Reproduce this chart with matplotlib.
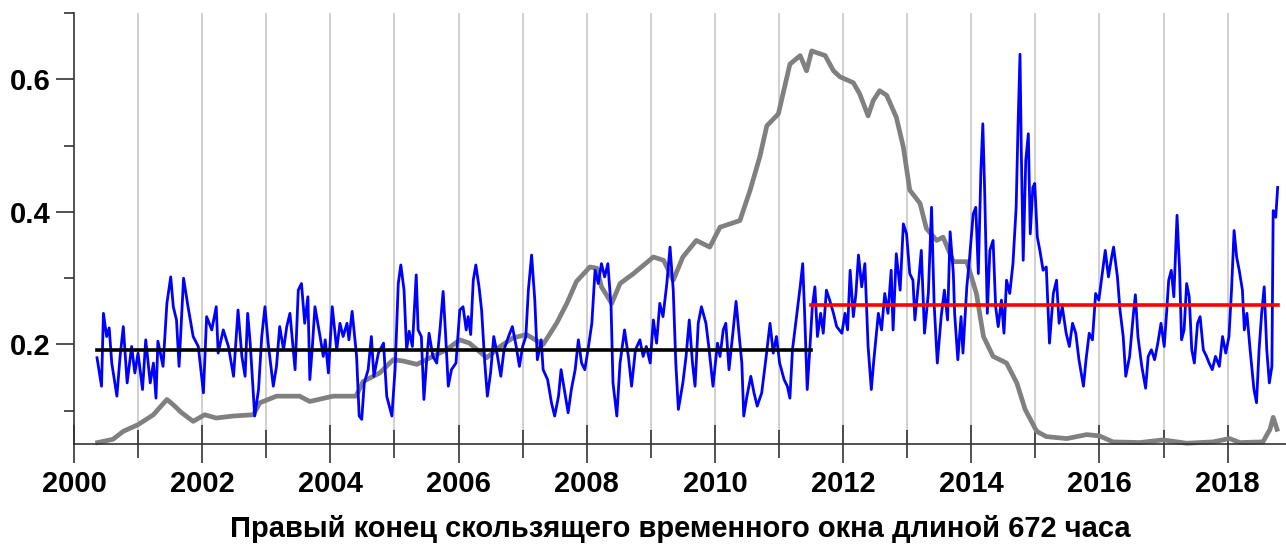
import matplotlib.pyplot as plt
from matplotlib.ticker import MultipleLocator

plt.rcParams["font.family"] = ["Liberation Sans", "DejaVu Sans"]

# blue series: windowed estimate (right window end, year)
blue_year = [
    2000.36, 2000.43, 2000.46, 2000.51, 2000.55, 2000.59, 2000.67, 2000.72, 2000.77, 2000.83,
    2000.90, 2000.95, 2001.00, 2001.07, 2001.12, 2001.19, 2001.24, 2001.28, 2001.31, 2001.39,
    2001.45, 2001.51, 2001.55, 2001.60, 2001.64, 2001.71, 2001.78, 2001.86, 2001.94, 2002.02,
    2002.07, 2002.15, 2002.22, 2002.25, 2002.33, 2002.41, 2002.49,
    2002.56, 2002.62, 2002.67, 2002.71, 2002.75, 2002.80, 2002.82, 2002.88, 2002.93, 2002.98,
    2003.03, 2003.11, 2003.16, 2003.21, 2003.27, 2003.32, 2003.37, 2003.45, 2003.50, 2003.55,
    2003.60, 2003.65, 2003.68, 2003.72, 2003.76, 2003.84, 2003.89, 2003.92, 2003.97, 2004.03,
    2004.10, 2004.15, 2004.20, 2004.26, 2004.29, 2004.34, 2004.41, 2004.45, 2004.49, 2004.53,
    2004.59, 2004.64, 2004.68, 2004.75,
    2004.83, 2004.88, 2004.96, 2005.01, 2005.06, 2005.10, 2005.15, 2005.19, 2005.23, 2005.28,
    2005.34, 2005.37, 2005.42, 2005.46, 2005.50, 2005.54, 2005.60, 2005.66, 2005.71, 2005.76,
    2005.80, 2005.84, 2005.89, 2005.96, 2006.02, 2006.07, 2006.12, 2006.15, 2006.19, 2006.23,
    2006.27, 2006.32, 2006.36, 2006.41, 2006.45, 2006.50, 2006.55, 2006.60, 2006.66, 2006.71,
    2006.78, 2006.84, 2006.90, 2006.95, 2007.00, 2007.05,
    2007.09, 2007.14, 2007.19, 2007.23, 2007.29, 2007.32, 2007.39, 2007.45, 2007.50, 2007.56,
    2007.60, 2007.65, 2007.71, 2007.76, 2007.82, 2007.87, 2007.92, 2007.97, 2008.02, 2008.08,
    2008.13, 2008.18, 2008.23, 2008.28, 2008.33, 2008.38, 2008.41, 2008.47, 2008.52, 2008.59,
    2008.65, 2008.70, 2008.76, 2008.83, 2008.88, 2008.93, 2008.99, 2009.04, 2009.09, 2009.14,
    2009.19, 2009.25, 2009.30, 2009.35,
    2009.39, 2009.43, 2009.50, 2009.55, 2009.60, 2009.65, 2009.69, 2009.74, 2009.79, 2009.86,
    2009.91, 2009.97, 2010.04, 2010.08, 2010.13, 2010.17, 2010.22, 2010.28, 2010.33, 2010.38,
    2010.42, 2010.45, 2010.50, 2010.56, 2010.61, 2010.66, 2010.73, 2010.80, 2010.86, 2010.91,
    2010.96, 2011.01, 2011.08, 2011.13, 2011.17, 2011.21, 2011.26, 2011.33, 2011.37, 2011.40,
    2011.44, 2011.48, 2011.52,
    2011.56, 2011.60, 2011.65, 2011.69, 2011.74, 2011.79, 2011.85, 2011.90, 2011.98, 2012.03,
    2012.07, 2012.11, 2012.16, 2012.20, 2012.24, 2012.29, 2012.34, 2012.39, 2012.44, 2012.48,
    2012.55, 2012.60, 2012.65, 2012.70, 2012.75, 2012.78, 2012.83, 2012.89, 2012.94, 2012.99,
    2013.04, 2013.09, 2013.12, 2013.18, 2013.22, 2013.27, 2013.33, 2013.38, 2013.42, 2013.47,
    2013.53, 2013.58, 2013.63, 2013.67, 2013.72, 2013.74, 2013.79, 2013.84,
    2013.87, 2013.93, 2013.97, 2014.03, 2014.07, 2014.11, 2014.15, 2014.18, 2014.21, 2014.25,
    2014.29, 2014.34, 2014.38, 2014.42, 2014.47, 2014.51, 2014.55, 2014.60, 2014.65, 2014.70,
    2014.73, 2014.76, 2014.78, 2014.81, 2014.85, 2014.89, 2014.92, 2014.96, 2014.99, 2015.03,
    2015.07, 2015.12, 2015.17, 2015.22, 2015.28, 2015.33, 2015.37, 2015.42, 2015.48, 2015.53,
    2015.58, 2015.63, 2015.68, 2015.75, 2015.79, 2015.84, 2015.89, 2015.94, 2015.99, 2016.05,
    2016.09, 2016.14, 2016.19, 2016.22,
    2016.28, 2016.32, 2016.37, 2016.41, 2016.47, 2016.53, 2016.56, 2016.60, 2016.66, 2016.72,
    2016.76, 2016.81, 2016.86, 2016.91, 2016.96, 2017.01, 2017.05, 2017.08, 2017.12, 2017.16,
    2017.21, 2017.25, 2017.28, 2017.32, 2017.36, 2017.40, 2017.44, 2017.48, 2017.53, 2017.57,
    2017.62, 2017.67, 2017.71, 2017.76, 2017.81, 2017.87, 2017.92, 2017.97, 2018.02, 2018.06,
    2018.10, 2018.14, 2018.18, 2018.23, 2018.26, 2018.30, 2018.35, 2018.41, 2018.45, 2018.49,
    2018.53, 2018.57, 2018.61, 2018.65, 2018.69, 2018.71, 2018.75, 2018.78,
]
blue_val = [
    0.180, 0.137, 0.247, 0.212, 0.225, 0.172, 0.122, 0.182, 0.227, 0.142,
    0.197, 0.157, 0.187, 0.132, 0.207, 0.142, 0.172, 0.119, 0.205, 0.167,
    0.262, 0.302, 0.257, 0.237, 0.167, 0.300, 0.257, 0.212, 0.197, 0.127,
    0.242, 0.222, 0.257, 0.187, 0.222, 0.197, 0.152,
    0.252, 0.182, 0.152, 0.247, 0.202, 0.122, 0.092, 0.132, 0.212, 0.257,
    0.202, 0.137, 0.167, 0.227, 0.192, 0.227, 0.247, 0.162, 0.282, 0.292,
    0.232, 0.272, 0.147, 0.197, 0.257, 0.212, 0.182, 0.207, 0.157, 0.257,
    0.192, 0.232, 0.212, 0.232, 0.207, 0.250, 0.182, 0.092, 0.087, 0.142,
    0.162, 0.212, 0.152, 0.187,
    0.202, 0.122, 0.092, 0.162, 0.292, 0.320, 0.282, 0.192, 0.220, 0.197,
    0.305, 0.222, 0.212, 0.117, 0.172, 0.217, 0.182, 0.172, 0.222, 0.280,
    0.212, 0.137, 0.162, 0.172, 0.252, 0.257, 0.222, 0.242, 0.215, 0.297,
    0.320, 0.287, 0.252, 0.172, 0.122, 0.157, 0.212, 0.187, 0.152, 0.192,
    0.212, 0.227, 0.197, 0.167, 0.197, 0.212,
    0.282, 0.335, 0.267, 0.177, 0.207, 0.162, 0.147, 0.112, 0.092, 0.122,
    0.162, 0.132, 0.097, 0.132, 0.162, 0.207, 0.172, 0.162, 0.192, 0.232,
    0.312, 0.292, 0.322, 0.302, 0.322, 0.257, 0.142, 0.092, 0.172, 0.222,
    0.182, 0.137, 0.192, 0.207, 0.182, 0.197, 0.172, 0.237, 0.202, 0.262,
    0.242, 0.292, 0.347, 0.282,
    0.172, 0.102, 0.142, 0.182, 0.237, 0.172, 0.137, 0.232, 0.257, 0.232,
    0.192, 0.137, 0.202, 0.182, 0.222, 0.232, 0.162, 0.217, 0.265, 0.212,
    0.172, 0.092, 0.122, 0.152, 0.127, 0.107, 0.127, 0.182, 0.232, 0.187,
    0.212, 0.172, 0.147, 0.137, 0.119, 0.192, 0.232, 0.287, 0.322, 0.247,
    0.132, 0.192, 0.257,
    0.287, 0.212, 0.247, 0.217, 0.282, 0.267, 0.247, 0.227, 0.217, 0.247,
    0.222, 0.312, 0.242, 0.277, 0.335, 0.287, 0.322, 0.197, 0.132, 0.177,
    0.247, 0.222, 0.277, 0.247, 0.312, 0.222, 0.337, 0.282, 0.382, 0.367,
    0.307, 0.297, 0.237, 0.297, 0.342, 0.217, 0.277, 0.407, 0.262, 0.172,
    0.242, 0.282, 0.237, 0.370, 0.307, 0.247, 0.177, 0.242,
    0.187, 0.287, 0.327, 0.397, 0.407, 0.307, 0.463, 0.533, 0.427, 0.247,
    0.342, 0.357, 0.257, 0.227, 0.267, 0.217, 0.297, 0.277, 0.322, 0.407,
    0.533, 0.638, 0.493, 0.327, 0.478, 0.518, 0.367, 0.437, 0.443, 0.362,
    0.342, 0.312, 0.317, 0.202, 0.277, 0.297, 0.232, 0.257, 0.217, 0.197,
    0.232, 0.217, 0.177, 0.137, 0.177, 0.217, 0.207, 0.277, 0.267, 0.312,
    0.342, 0.302, 0.332, 0.347,
    0.302, 0.252, 0.212, 0.152, 0.182, 0.247, 0.275, 0.212, 0.167, 0.134,
    0.182, 0.192, 0.177, 0.202, 0.232, 0.197, 0.252, 0.297, 0.312, 0.272,
    0.395, 0.312, 0.207, 0.222, 0.292, 0.272, 0.192, 0.172, 0.232, 0.242,
    0.192, 0.182, 0.172, 0.162, 0.182, 0.167, 0.212, 0.187, 0.212, 0.282,
    0.372, 0.332, 0.312, 0.282, 0.222, 0.247, 0.192, 0.132, 0.112, 0.192,
    0.247, 0.287, 0.192, 0.142, 0.167, 0.402, 0.392, 0.437,
]

# gray series: smooth curve
gray_year = [
    2000.37, 2000.61, 2000.77, 2001.00, 2001.24, 2001.45, 2001.55, 2001.68, 2001.86, 2002.04,
    2002.22, 2002.48, 2002.80, 2002.90, 2003.16, 2003.52, 2003.68, 2004.04, 2004.40, 2004.51,
    2004.77, 2004.98, 2005.14, 2005.35, 2005.60, 2005.81, 2006.02, 2006.17, 2006.44, 2006.65,
    2006.85, 2007.06, 2007.32, 2007.53, 2007.69, 2007.84, 2008.05, 2008.16, 2008.23, 2008.39,
    2008.52, 2008.73, 2009.04, 2009.20, 2009.35, 2009.50, 2009.71, 2009.92, 2010.08, 2010.39,
    2010.55, 2010.70, 2010.81, 2010.99, 2011.17, 2011.33, 2011.43, 2011.51, 2011.72, 2011.85,
    2011.95, 2012.16, 2012.26, 2012.39, 2012.47, 2012.57, 2012.68, 2012.83, 2012.94, 2013.04,
    2013.20, 2013.30, 2013.46, 2013.56, 2013.72, 2013.93, 2014.08, 2014.19, 2014.34, 2014.55,
    2014.71, 2014.84, 2015.02, 2015.17, 2015.49, 2015.80, 2016.00, 2016.21, 2016.63, 2016.99,
    2017.36, 2017.77, 2018.03, 2018.19, 2018.55, 2018.66, 2018.71, 2018.77,
]
gray_val = [
    0.052, 0.057, 0.069, 0.079, 0.094, 0.117, 0.109, 0.097, 0.084, 0.094,
    0.089, 0.092, 0.094, 0.112, 0.122, 0.122, 0.114, 0.122, 0.122, 0.144,
    0.157, 0.177, 0.175, 0.170, 0.182, 0.192, 0.207, 0.202, 0.180, 0.197,
    0.210, 0.215, 0.200, 0.232, 0.262, 0.295, 0.317, 0.315, 0.287, 0.262,
    0.292, 0.307, 0.332, 0.327, 0.297, 0.332, 0.357, 0.347, 0.377, 0.387,
    0.433, 0.483, 0.530, 0.548, 0.623, 0.636, 0.613, 0.643, 0.636, 0.613,
    0.604, 0.595, 0.578, 0.545, 0.568, 0.583, 0.576, 0.543, 0.498, 0.433,
    0.413, 0.375, 0.357, 0.362, 0.325, 0.325, 0.277, 0.212, 0.182, 0.172,
    0.142, 0.102, 0.069, 0.061, 0.058, 0.064, 0.062, 0.053, 0.052, 0.056,
    0.051, 0.053, 0.058, 0.052, 0.053, 0.072, 0.090, 0.072,
]

# period means: (start, end, level)
mean_before = (2000.36, 2011.50, 0.192)
mean_after = (2011.50, 2018.78, 0.260)

year_ticks = list(range(2000, 2019, 2))
xlabel = "Правый конец скользящего временного окна длиной 672 часа"

fig = plt.figure(figsize=(12.86, 5.48), dpi=100)
ax = fig.add_axes([0.0575, 0.19, 0.9425, 0.786])

for yr in range(2001, 2019):
    ax.axvline(yr, color="#d0d0d0", linewidth=1.4, zorder=0)

ax.plot(gray_year, gray_val, color="#808080", linewidth=3.4, zorder=2, clip_on=False)
ax.plot(blue_year, blue_val, color="#0000ff", linewidth=2.0, zorder=3)
ax.plot(mean_before[:2], [mean_before[2]] * 2, color="black", linewidth=2.6, zorder=4)
ax.plot(mean_after[:2], [mean_after[2]] * 2, color="#ff0000", linewidth=2.6, zorder=4)

ax.set_xlim(2000, 2018.91)
ax.set_ylim(0.05, 0.7)
ax.set_xticks(year_ticks)
ax.xaxis.set_minor_locator(MultipleLocator(1))
ax.set_yticks([0.2, 0.4, 0.6])
ax.set_yticklabels(["0.2", "0.4", "0.6"])
ax.set_yticks([0.1, 0.3, 0.5, 0.7], minor=True)

ax.tick_params(axis="x", which="major", direction="inout", length=28, width=1.2,
               color="#333333", pad=5, labelsize=21)
ax.tick_params(axis="x", which="minor", direction="inout", length=20, width=1.2,
               color="#333333")
ax.tick_params(axis="y", which="major", direction="out", length=13, width=1.2,
               color="#333333", pad=4, labelsize=21)
ax.tick_params(axis="y", which="minor", direction="out", length=7, width=1.2,
               color="#333333")
for lbl in ax.get_xticklabels() + ax.get_yticklabels():
    lbl.set_fontweight("bold")

ax.spines["top"].set_visible(False)
ax.spines["right"].set_visible(False)
ax.spines["left"].set_color("#333333")
ax.spines["bottom"].set_color("#333333")
ax.spines["left"].set_linewidth(1.2)
ax.spines["bottom"].set_linewidth(1.2)

ax.set_xlabel(xlabel, fontsize=21, fontweight="bold", labelpad=12)

fig.savefig("out.png", dpi=100)
